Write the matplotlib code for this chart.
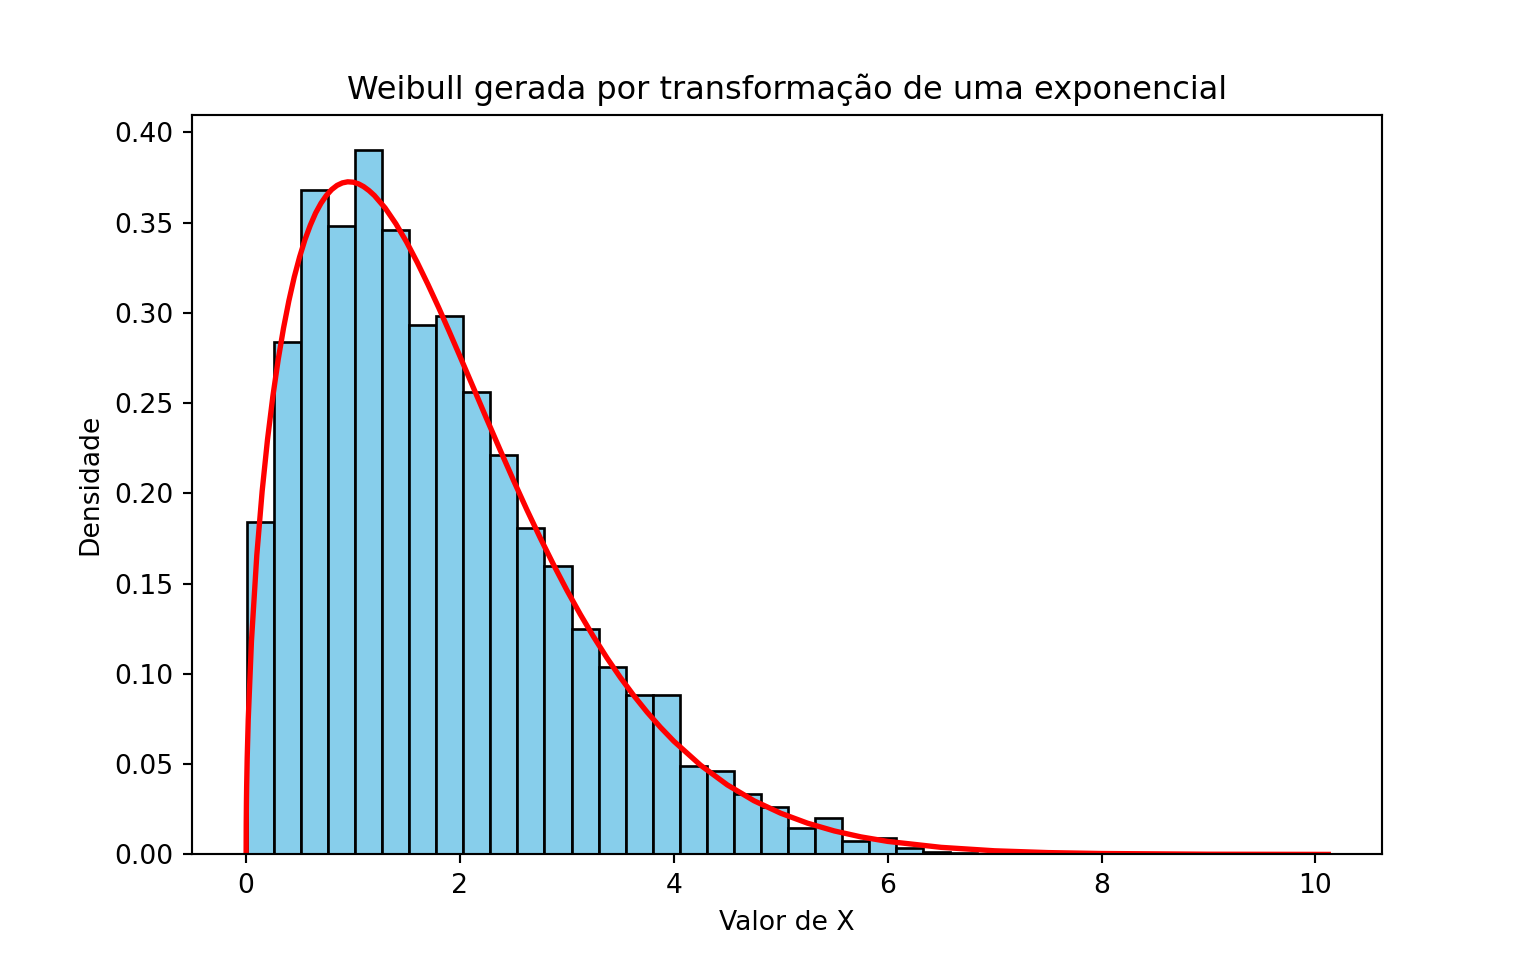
import numpy as np
import matplotlib
matplotlib.use("Agg")
import matplotlib.pyplot as plt

# histograma (density=True), 40 classes entre o menor e o maior valor
x_min = 0.01
x_max = 10.12
n_bins = 40
densidade = [0.184, 0.284, 0.368, 0.348, 0.390, 0.346, 0.293, 0.298, 0.256, 0.221,
             0.181, 0.160, 0.125, 0.104, 0.0885, 0.0885, 0.0488, 0.0460, 0.0332, 0.0262,
             0.0148, 0.0200, 0.0072, 0.0090, 0.0037, 0.0015, 0.0010, 0.0, 0.0, 0.0,
             0.0, 0.0, 0.0, 0.0, 0.0, 0.0, 0.0, 0.0, 0.0, 0.0005]

# curva teorica
curva_x = [0.0, 0.001, 0.003, 0.005, 0.01, 0.02, 0.05, 0.1, 0.15, 0.2, 0.25, 0.3, 0.35,
           0.4, 0.45, 0.5, 0.55, 0.6, 0.65, 0.7, 0.75, 0.8, 0.85, 0.9, 0.95, 1.0, 1.05,
           1.1, 1.15, 1.2, 1.3, 1.4, 1.5, 1.6, 1.7, 1.8, 1.9, 2.0, 2.125, 2.25, 2.375,
           2.5, 2.625, 2.75, 2.875, 3.0, 3.125, 3.25, 3.375, 3.5, 3.625, 3.75, 3.875,
           4.0, 4.25, 4.5, 4.75, 5.0, 5.25, 5.5, 5.75, 6.0, 6.5, 7.0, 7.5, 8.0, 9.0, 10.12]
curva_y = [0.0, 0.0168, 0.0291, 0.0375, 0.0530, 0.0749, 0.1181, 0.1658, 0.2012, 0.2298,
           0.2537, 0.2741, 0.2916, 0.3067, 0.3198, 0.3309, 0.3405, 0.3485, 0.3553, 0.3607,
           0.3650, 0.3683, 0.3706, 0.3720, 0.3726, 0.3724, 0.3715, 0.3699, 0.3677, 0.3650,
           0.3581, 0.3494, 0.3393, 0.3280, 0.3158, 0.3030, 0.2896, 0.2759, 0.2586, 0.2412,
           0.2241, 0.2073, 0.1910, 0.1754, 0.1605, 0.1463, 0.1330, 0.1205, 0.1088, 0.0980,
           0.0880, 0.0788, 0.0704, 0.0627, 0.0494, 0.0385, 0.0297, 0.0228, 0.0173, 0.0130,
           0.0097, 0.0072, 0.0039, 0.0020, 0.0010, 0.0005, 0.0001, 0.0]

edges = np.linspace(x_min, x_max, n_bins + 1)
largura = edges[1] - edges[0]

fig, ax = plt.subplots(figsize=(8, 5), dpi=192)
ax.bar(edges[:-1], densidade, width=largura, align='edge',
       color='skyblue', edgecolor='black', linewidth=1)
ax.plot(curva_x, curva_y, color='red', linewidth=2)
ax.set_title('Weibull gerada por transformação de uma exponencial')
ax.set_xlabel('Valor de X')
ax.set_ylabel('Densidade')
plt.savefig('out.png', dpi=192)
